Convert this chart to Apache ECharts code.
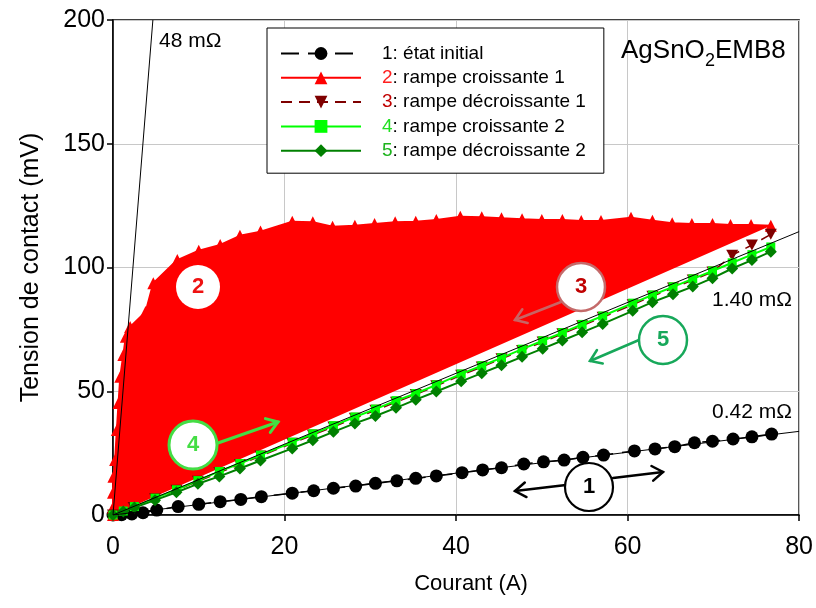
<!DOCTYPE html>
<html><head><meta charset="utf-8">
<script src="https://cdn.jsdelivr.net/npm/echarts@6/dist/echarts.min.js"></script>
<style>html,body{margin:0;padding:0;background:#fff}#c{width:816px;height:608px}</style>
</head><body><div id="c"></div>
<script>
const FONT = '"Liberation Sans", Arial, sans-serif';

// axes
const xTickValues = [0, 20, 40, 60, 80];
const yTickValues = [0, 50, 100, 150, 200];

// series names
const seriesNames = ['1: état initial', '2: rampe croissante 1', '3: rampe décroissante 1', '4: rampe croissante 2', '5: rampe décroissante 2'];

// 1: état initial (A, mV)
const I1 = [0, 1.0, 2.2, 3.5, 5.1, 7.6, 10.0, 12.5, 14.9, 17.3, 20.9, 23.4, 25.7, 28.3, 30.6, 33.1, 35.3, 37.7, 40.7, 43.1, 45.3, 47.9, 50.2, 52.6, 54.8, 57.2, 60.8, 63.2, 65.5, 67.8, 69.9, 72.3, 74.5, 76.8];
const V1 = [0, 0.1, 0.4, 0.9, 2.0, 3.4, 4.3, 5.4, 6.3, 7.4, 8.8, 9.8, 10.8, 11.7, 12.8, 13.8, 14.8, 15.8, 17.1, 18.2, 19.1, 20.6, 21.5, 22.2, 23.3, 24.2, 25.9, 26.7, 27.6, 29.2, 29.8, 30.7, 31.6, 32.7];

// 2: rampe croissante 1
const I2 = [0, 0, 0, 0.05, 0.25, 0.45, 0.65, 0.85, 1.2, 1.5, 2.0, 3.8, 4.7, 7.5, 10.0, 12.5, 14.8, 17.2, 20.9, 23.3, 25.6, 28.2, 30.5, 32.9, 35.3, 37.7, 40.5, 43.0, 45.3, 47.7, 50.0, 52.4, 54.6, 56.9, 60.4, 62.9, 65.2, 67.5, 69.9, 72.0, 74.4, 76.7];
const V2 = [0, 3, 9, 15.5, 22.2, 34.3, 45.3, 55.9, 64.6, 72.0, 76.0, 82.0, 93.6, 103.0, 106.8, 109.1, 112.8, 114.5, 118.5, 118.3, 116.5, 116.9, 117.6, 118.3, 118.5, 119.2, 120.5, 120.3, 119.9, 119.5, 119.2, 119.2, 118.8, 118.8, 120.1, 118.9, 117.9, 117.6, 117.6, 117.2, 117.2, 116.9];

// 3: rampe décroissante 1
const I3 = [76.7, 74.5, 72.2, 69.9, 67.6, 65.3, 62.9, 60.6, 57.1, 54.7, 52.4, 50.1, 47.7, 45.3, 43.0, 40.6, 37.7, 35.3, 33.0, 30.6, 28.2, 25.7, 23.3, 20.9, 17.2, 14.8, 12.4, 9.9, 7.4, 4.9, 2.4, 0];
const V3 = [113.4, 109.1, 105.0, 98.2, 94.9, 91.7, 88.4, 85.0, 79.9, 76.5, 73.2, 69.9, 66.5, 63.1, 59.8, 56.5, 52.2, 48.7, 45.6, 42.3, 39.1, 35.6, 32.3, 29.0, 23.8, 20.4, 17.2, 13.6, 10.0, 6.6, 3.0, 0];

// 4: rampe croissante 2
const I4 = [0, 1.2, 2.5, 4.9, 7.4, 9.9, 12.4, 14.8, 17.2, 20.9, 23.3, 25.7, 28.2, 30.6, 33.0, 35.3, 37.7, 40.6, 43.0, 45.3, 47.7, 50.1, 52.4, 54.7, 57.1, 60.6, 62.9, 65.3, 67.6, 69.9, 72.2, 74.5, 76.7];
const V4 = [0, 1.6, 3.4, 6.8, 10.2, 13.9, 17.6, 20.8, 24.2, 29.4, 32.8, 36.1, 39.6, 42.8, 46.2, 49.1, 52.6, 57.0, 60.3, 63.5, 67.0, 70.4, 73.7, 77.0, 80.4, 85.6, 88.9, 92.2, 95.4, 98.6, 101.9, 105.2, 108.3];

// 5: rampe décroissante 2
const I5 = [76.7, 74.5, 72.2, 69.9, 67.6, 65.3, 62.9, 60.6, 57.1, 54.7, 52.4, 50.1, 47.7, 45.3, 43.0, 40.6, 37.7, 35.3, 33.0, 30.6, 28.2, 25.7, 23.3, 20.9, 17.2, 14.8, 12.4, 9.9, 7.4, 4.9, 2.5, 1.2, 0];
const V5 = [106.4, 103.0, 99.6, 95.7, 92.3, 89.2, 86.0, 82.5, 77.2, 73.8, 70.5, 67.2, 63.9, 60.5, 57.3, 54.0, 49.9, 46.6, 43.3, 40.0, 37.0, 33.6, 30.2, 26.9, 22.0, 18.8, 15.6, 12.6, 9.2, 6.0, 3.0, 1.4, 0];

// reference lines (resistance slopes), endpoints in (A, mV)
const ref48I = [0, 4.65], ref48V = [0, 200];
const ref140I = [0, 80], ref140V = [0, 114.5];
const ref042I = [0, 80], ref042V = [0, 33.8];

function zip(a, b) { return a.map((v, i) => [v, b[i]]); }

const chart = echarts.init(document.getElementById('c'), null, { renderer: 'canvas' });

const numColors = { '1': '#000000', '2': '#FF2020', '3': '#C00000', '4': '#22E022', '5': '#1DB31D' };
const rich = { t: { fontSize: 19, fontFamily: FONT, color: '#000', lineHeight: 18 } };
Object.keys(numColors).forEach(k => {
  rich['n' + k] = { fontSize: 19, fontFamily: FONT, color: numColors[k], lineHeight: 18, padding: [0, 0, 0, 16] };
});

function arrow(x1, y1, x2, y2, color, w) {
  const ang = Math.atan2(y2 - y1, x2 - x1), L = 13, a = 0.6;
  const p1 = [x2 - L * Math.cos(ang - a), y2 - L * Math.sin(ang - a)];
  const p2 = [x2 - L * Math.cos(ang + a), y2 - L * Math.sin(ang + a)];
  return [
    { type: 'line', z: 100, shape: { x1, y1, x2, y2 }, style: { stroke: color, lineWidth: w, lineCap: 'round' } },
    { type: 'polyline', z: 100, shape: { points: [p1, [x2, y2], p2] }, style: { stroke: color, lineWidth: w, fill: null, lineCap: 'round', lineJoin: 'miter' } }
  ];
}
function bubble(cx, cy, r, label, stroke, textColor, lw) {
  return [
    { type: 'circle', z: 101, shape: { cx, cy, r }, style: { fill: '#fff', stroke: stroke || null, lineWidth: lw || 0 } },
    { type: 'text', z: 102, x: cx, y: cy, style: { text: label, fill: textColor, font: 'bold 22px ' + FONT, align: 'center', verticalAlign: 'middle' } }
  ];
}
function txt(x, y, s, size) {
  return { type: 'text', z: 100, x, y, style: { text: s, fill: '#000', font: size + 'px ' + FONT, align: 'left', verticalAlign: 'middle' } };
}

const graphics = [].concat(
  [txt(621, 51, 'AgSnO', 26), txt(705, 61, '2', 18), txt(715, 51, 'EMB8', 26)],
  [txt(159, 41.5, '48 mΩ', 21), txt(712, 300.5, '1.40 mΩ', 21), txt(712, 412, '0.42 mΩ', 21)],
  bubble(198, 287, 22, '2', null, '#EE1111', 0),
  arrow(561, 302, 515, 320, '#C86464', 2.5),
  bubble(581, 287, 24, '3', '#C46A6A', '#C00000', 2.5),
  arrow(639, 340, 590, 361, '#17A85A', 2.5),
  bubble(663, 340, 24, '5', '#17A85A', '#17A85A', 2.5),
  arrow(218, 443, 278, 422, '#44DD44', 3),
  bubble(193, 445, 24, '4', '#44DD44', '#44DD44', 3),
  arrow(566, 485, 515, 491, '#000', 2.5),
  arrow(613, 478, 663, 472, '#000', 2.5),
  bubble(589, 487, 24, '1', '#000', '#000', 2.2)
);

const refLine = (d) => ({
  type: 'line', data: d, symbol: 'none', silent: true, z: 8,
  lineStyle: { color: '#000', width: 1 }, itemStyle: { color: '#000' }
});

const option = {
  animation: false,
  backgroundColor: '#fff',
  textStyle: { fontFamily: FONT },
  grid: { left: 113, right: 16, top: 20, bottom: 93, show: true, borderColor: '#000', borderWidth: 1.5, backgroundColor: 'transparent' },
  xAxis: {
    type: 'value', min: xTickValues[0], max: xTickValues[xTickValues.length - 1], interval: xTickValues[1] - xTickValues[0],
    name: 'Courant (A)', nameLocation: 'middle', nameGap: 58,
    nameTextStyle: { fontSize: 22, color: '#000', fontFamily: FONT, padding: [0, 0, 0, 30] },
    axisLine: { lineStyle: { color: '#000', width: 1.5 } },
    axisTick: { show: true, inside: false, length: 6, lineStyle: { color: '#000', width: 1.5 } },
    axisLabel: { fontSize: 25, color: '#000', margin: 20, fontFamily: FONT },
    splitLine: { show: true, lineStyle: { color: '#C8C8C8', width: 1 } }
  },
  yAxis: {
    type: 'value', min: yTickValues[0], max: yTickValues[yTickValues.length - 1], interval: yTickValues[1] - yTickValues[0],
    name: 'Tension de contact (mV)', nameLocation: 'middle', nameGap: 69,
    nameTextStyle: { fontSize: 25, color: '#000', fontFamily: FONT },
    axisLine: { show: true, lineStyle: { color: '#000', width: 1.5 } },
    axisTick: { show: true, inside: false, length: 6, lineStyle: { color: '#000', width: 1.5 } },
    axisLabel: { fontSize: 25, color: '#000', margin: 8, fontFamily: FONT },
    splitLine: { show: true, lineStyle: { color: '#C8C8C8', width: 1 } }
  },
  legend: {
    data: seriesNames,
    orient: 'vertical', left: 267, top: 28,
    itemWidth: 80, itemHeight: 16, itemGap: 5.3,
    padding: [16, 18, 13, 13],
    borderColor: '#000', borderWidth: 1, backgroundColor: '#fff',
    formatter: function (name) {
      const k = name.split(':')[0];
      return '{n' + k + '|' + k + '}{t|' + name.slice(k.length) + '}';
    },
    textStyle: { fontSize: 19, color: '#000', fontFamily: FONT, rich: rich },
    selectedMode: false
  },
  series: [
    {
      name: seriesNames[0], type: 'line', data: zip(I1, V1), z: 2,
      symbol: 'circle', symbolSize: 13,
      lineStyle: { color: '#000', width: 1.5, type: [18, 9] },
      itemStyle: { color: '#000' }
    },
    {
      name: 'fill2', type: 'custom', data: [[0, 0]], z: 3, silent: true, clip: true,
      renderItem: function (params, api) {
        const pts = zip(I2, V2).map(p => api.coord(p));
        return { type: 'polygon', shape: { points: pts }, style: { fill: '#FF0000', stroke: null } };
      }
    },
    {
      name: seriesNames[1], type: 'line', data: zip(I2, V2), z: 3,
      symbol: 'triangle', symbolSize: 12,
      lineStyle: { color: '#FF0000', width: 2 },
      itemStyle: { color: '#FF0000' }
    },
    {
      name: seriesNames[2], type: 'line', data: zip(I3, V3), z: 4,
      symbol: 'path://M0,0 L10,0 L5,9 Z', symbolSize: [12, 11],
      lineStyle: { color: '#7F0000', width: 1.5, type: [11, 7] },
      itemStyle: { color: '#7F0000' }
    },
    {
      name: seriesNames[3], type: 'line', data: zip(I4, V4), z: 5,
      symbol: 'rect', symbolSize: 9,
      lineStyle: { color: '#00FF00', width: 2 },
      itemStyle: { color: '#00FF00' }
    },
    {
      name: seriesNames[4], type: 'line', data: zip(I5, V5), z: 6,
      symbol: 'diamond', symbolSize: 12,
      lineStyle: { color: '#008000', width: 2 },
      itemStyle: { color: '#008000' }
    },
    refLine(zip(ref48I, ref48V)),
    refLine(zip(ref140I, ref140V)),
    refLine(zip(ref042I, ref042V))
  ],
  graphic: graphics
};
chart.setOption(option);
</script>
</body></html>
